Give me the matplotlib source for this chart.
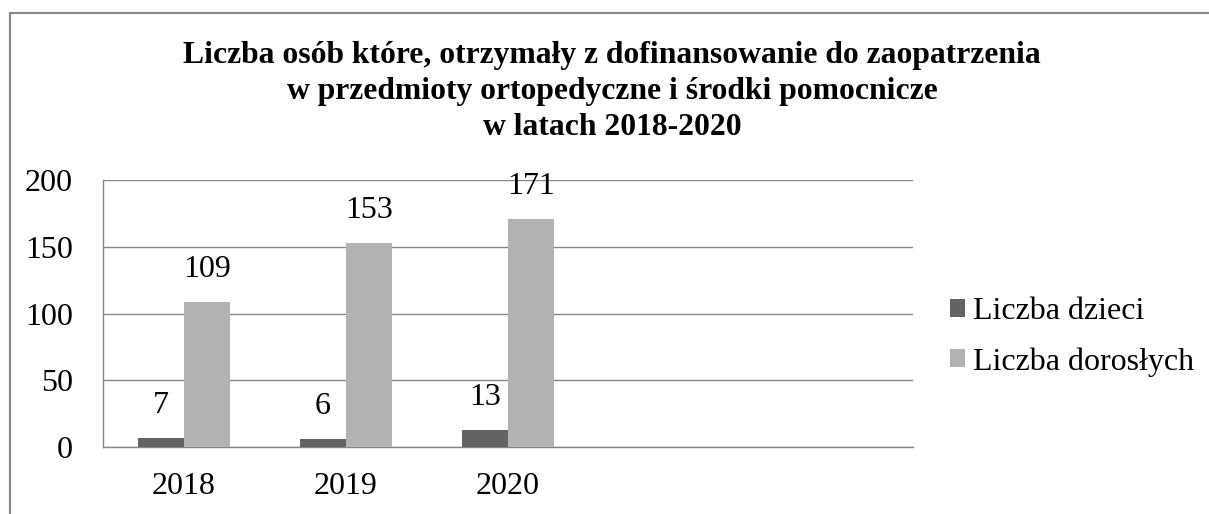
import matplotlib.pyplot as plt
from matplotlib.patches import Rectangle
import numpy as np

lata = ["2018", "2019", "2020"]
dzieci = [7, 6, 13]
dorosli = [109, 153, 171]
serie = ["Liczba dzieci", "Liczba dorosłych"]
tytul = [
    "Liczba osób które, otrzymały z dofinansowanie do zaopatrzenia",
    "w przedmioty ortopedyczne i środki pomocnicze",
    "w latach 2018-2020",
]

plt.rcParams["font.family"] = ["Liberation Serif", "DejaVu Serif"]
FS = 23
W, H = 1209, 514
kolory = {"dzieci": "#636363", "dorosli": "#b2b2b2"}
szary = "#878787"

fig = plt.figure(figsize=(W / 100, H / 100), dpi=100)
ax = fig.add_axes([103 / W, 1 - 447.3 / H, (913 - 103) / W, (447.3 - 180) / H])

# ramka wykresu
fig.patches.append(Rectangle((10 / W, -0.1), 1.2, 1.1 - 13 / H, transform=fig.transFigure,
                             fill=False, edgecolor="#8a8a8a", linewidth=1.6, clip_on=False))

x = np.arange(len(lata))
w = 1 / 3.5
b1 = ax.bar(x - w / 2, dzieci, w, color=kolory["dzieci"], label=serie[0], zorder=3)
b2 = ax.bar(x + w / 2, dorosli, w, color=kolory["dorosli"], label=serie[1], zorder=3)
for bars in (b1, b2):
    ax.bar_label(bars, padding=13, fontsize=FS)

ax.set_xlim(-0.5, 4.5)
ax.set_ylim(0, 200)
ax.set_yticks([0, 50, 100, 150, 200])
ax.set_xticks(x)
ax.set_xticklabels(lata)
ax.tick_params(axis="both", length=0, labelsize=FS)
ax.tick_params(axis="y", pad=21.6)
ax.tick_params(axis="x", pad=18)
ax.grid(axis="y", color=szary, linewidth=1.0, zorder=0)
for s in ["top", "right"]:
    ax.spines[s].set_visible(False)
for s in ["left", "bottom"]:
    ax.spines[s].set_color(szary)
    ax.spines[s].set_linewidth(1.0)

for i, linia in enumerate(tytul):
    fig.text(612 / W, 1 - (63 + 36 * i) / H, linia, ha="center", va="baseline",
             fontsize=22.8, fontweight="bold")

fig.legend(loc="center left", bbox_to_anchor=(950 / W, 1 - 337 / H), frameon=False,
           fontsize=FS, handlelength=0.47, handleheight=0.47, handletextpad=0.25,
           labelspacing=0.65, borderpad=0, borderaxespad=0)

fig.savefig("out.png", dpi=100)
